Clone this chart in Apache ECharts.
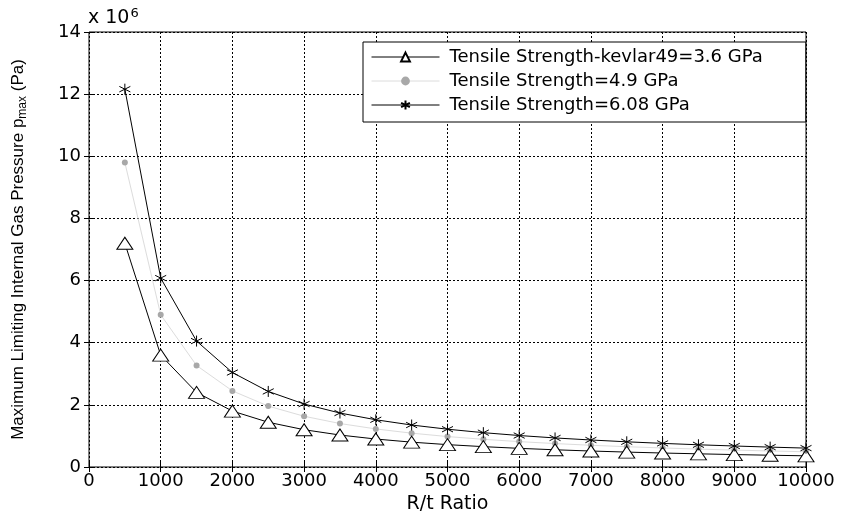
<!DOCTYPE html>
<html>
<head>
<meta charset="utf-8">
<script src="https://cdn.jsdelivr.net/npm/echarts@6/dist/echarts.min.js"></script>
<style>
  html, body { margin: 0; padding: 0; background: #fff; }
  #chart { width: 855px; height: 513px; }
</style>
</head>
<body>
<div id="chart"></div>
<script>
// R/t ratio values
var ratios = [500, 1000, 1500, 2000, 2500, 3000, 3500, 4000, 4500, 5000,
  5500, 6000, 6500, 7000, 7500, 8000, 8500, 9000, 9500, 10000]
// pressure, x 10^6 Pa
var kevlar36 = [7.2, 3.6, 2.4, 1.8, 1.44, 1.2, 1.029, 0.9, 0.8, 0.72,
  0.655, 0.6, 0.554, 0.514, 0.48, 0.45, 0.424, 0.4, 0.379, 0.36]
var strength49 = [9.8, 4.9, 3.267, 2.45, 1.96, 1.633, 1.4, 1.225, 1.089, 0.98,
  0.891, 0.817, 0.754, 0.7, 0.653, 0.613, 0.576, 0.544, 0.516, 0.49]
var strength608 = [12.16, 6.08, 4.053, 3.04, 2.432, 2.027, 1.737, 1.52, 1.351, 1.216,
  1.105, 1.013, 0.935, 0.869, 0.811, 0.76, 0.715, 0.676, 0.64, 0.608]
var seriesNames = ['Tensile Strength-kevlar49=3.6 GPa', 'Tensile Strength=4.9 GPa', 'Tensile Strength=6.08 GPa']

function pairs(ys) {
  return ratios.map(function (x, i) { return [x, ys[i]] })
}

var font = 'DejaVu Sans, sans-serif'
var font2 = 'Liberation Sans, Arial, sans-serif'
var asterisk = 'path://M0,-10L0,10M-8.66,-5L8.66,5M-8.66,5L8.66,-5'
var tick = { inside: true, length: 5, lineStyle: { color: '#000' } }
var dotted = { show: true, lineStyle: { color: '#000', type: [2, 2], width: 1 } }

var chart = echarts.init(document.getElementById('chart'))
chart.setOption({
  animation: false,
  backgroundColor: '#fff',
  grid: {
    left: 89, right: 49, top: 32, bottom: 46,
    containLabel: false,
    outerBoundsMode: 'none',
    show: true, borderColor: '#000', borderWidth: 1
  },
  graphic: [{
    type: 'text',
    left: 88, top: 7,
    style: {
      text: 'x 10{sup|6}',
      font: '19px ' + font,
      fill: '#000',
      rich: { sup: { fontSize: 13, verticalAlign: 'top', padding: [0, 0, 9, 1], fontFamily: font } }
    }
  }],
  legend: {
    orient: 'vertical',
    left: 363, top: 42,
    width: 442,
    padding: [4, 43, 6, 8],
    itemGap: 2,
    itemWidth: 68,
    itemHeight: 11,
    backgroundColor: '#fff',
    borderColor: '#000',
    borderWidth: 1,
    borderRadius: 0,
    lineStyle: { width: 1 },
    textStyle: { fontFamily: font, fontSize: 18, color: '#000', lineHeight: 22, padding: [0, 0, 0, 5] },
    data: seriesNames
  },
  xAxis: [{
    type: 'value',
    min: 0, max: 10000, interval: 1000,
    name: 'R/t Ratio',
    nameLocation: 'middle',
    nameGap: 24,
    nameTextStyle: { fontFamily: font, fontSize: 19, color: '#000' },
    axisLine: { show: false },
    axisTick: tick,
    axisLabel: {
      fontFamily: font, fontSize: 18, color: '#000', margin: 5,
      formatter: function (v) { return String(v) }
    },
    splitLine: dotted
  }, {
    type: 'value', position: 'top',
    min: 0, max: 10000, interval: 1000,
    axisLine: { show: false }, axisTick: tick,
    axisLabel: { show: false }, splitLine: { show: false }
  }],
  yAxis: [{
    type: 'value',
    min: 0, max: 14, interval: 2,
    name: 'Maximum Limiting Internal Gas Pressure p{sub|max} (Pa)',
    nameLocation: 'middle',
    nameRotate: 90,
    nameGap: 60,
    nameTextStyle: {
      fontFamily: font2, fontSize: 17, color: '#000',
      rich: { sub: { fontSize: 12, verticalAlign: 'bottom', padding: [9, 0, 0, 0], fontFamily: font2 } }
    },
    axisLine: { show: false },
    axisTick: tick,
    axisLabel: { fontFamily: font, fontSize: 18, color: '#000', margin: 8 },
    splitLine: dotted
  }, {
    type: 'value', position: 'right',
    min: 0, max: 14, interval: 2,
    axisLine: { show: false }, axisTick: tick,
    axisLabel: { show: false }, splitLine: { show: false }
  }],
  series: [
    {
      name: seriesNames[0],
      type: 'line',
      data: pairs(kevlar36),
      symbol: 'triangle',
      symbolSize: [16, 12],
      showAllSymbol: true,
      lineStyle: { color: '#000', width: 1 },
      itemStyle: { color: '#fff', borderColor: '#000', borderWidth: 1 },
      z: 3
    },
    {
      name: seriesNames[1],
      type: 'line',
      data: pairs(strength49),
      symbol: 'circle',
      symbolSize: 6,
      showAllSymbol: true,
      lineStyle: { color: '#dcdcdc', width: 1 },
      itemStyle: { color: '#a8a8a8' },
      z: 2
    },
    {
      name: seriesNames[2],
      type: 'line',
      data: pairs(strength608),
      symbol: asterisk,
      symbolSize: 11,
      showAllSymbol: true,
      lineStyle: { color: '#000', width: 1 },
      itemStyle: { color: 'none', borderColor: '#000', borderWidth: 1 },
      z: 4
    }
  ]
})
</script>
</body>
</html>
